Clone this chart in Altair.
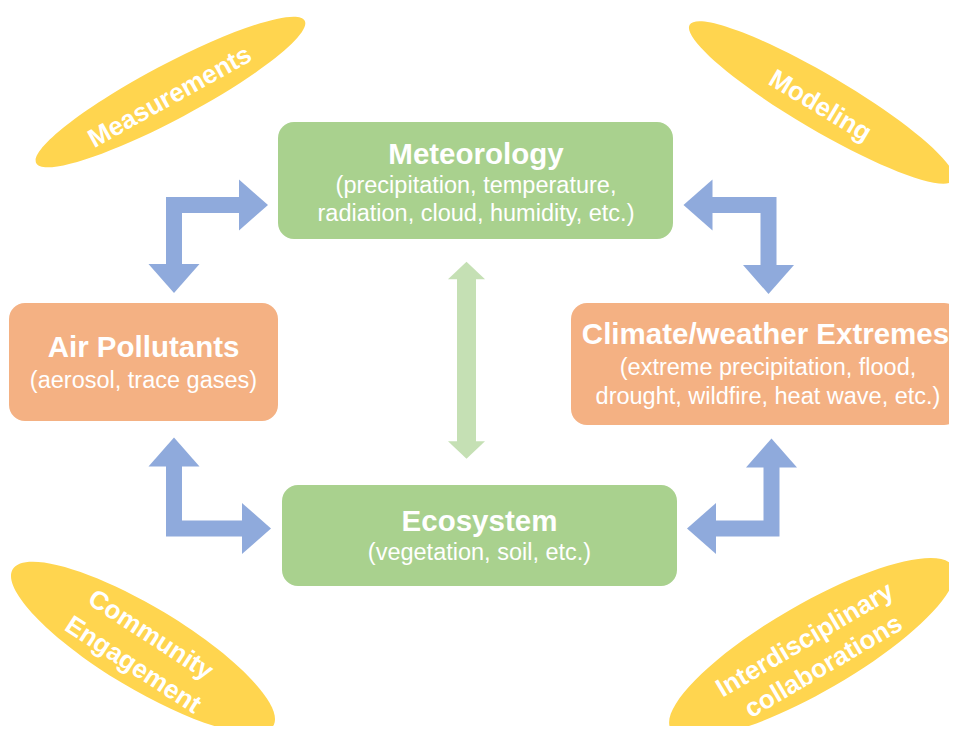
import altair as alt
import pandas as pd

# ---------------- content ----------------
box_titles = ["Meteorology", "Air Pollutants", "Climate/weather Extremes", "Ecosystem"]
box_sub_lines = [
    ["(precipitation, temperature,", "radiation, cloud, humidity, etc.)"],
    ["(aerosol, trace gases)"],
    ["(extreme precipitation, flood,", "drought, wildfire, heat wave, etc.)"],
    ["(vegetation, soil, etc.)"],
]
box_colors = ["#A9D18E", "#F4B183", "#F4B183", "#A9D18E"]
theme_lines = [["Measurements"], ["Modeling"], ["Community", "Engagement"],
               ["Interdisciplinary", "collaborations"]]

# ---------------- layout (page pixels) ----------------
box_x0 = [278, 9, 571, 282]
box_x1 = [673, 278, 960, 677]
box_y0 = [122, 303, 303, 485]
box_y1 = [239, 421, 425, 586]
box_text_x = [476, 143.5, 768, 479.5]
box_title_x = [476, 143.5, 765.5, 479.5]
box_title_y = [155, 348, 335, 522]
box_sub_y = [[186, 214], [381], [368, 397], [553]]

ell_cx = [170.5, 821.5, 143, 812]
ell_cy = [92, 102.5, 647.5, 648]
ell_angle = [332, 30.5, 31, 330]
ell_half = [152, 153, 152, 163]
ell_fat = [False, False, True, True]
ell_text_x = [[170], [820], [150.5, 133], [805, 823.5]]
ell_text_y = [[97], [106], [635, 665], [640, 666.5]]
ell_text_angle = [331, 31, 33, 329.5]

# blue elbow arrows: (arrow id, x, y) polyline points
blue_arrow_id = [1, 1, 1, 2, 2, 2, 3, 3, 3, 4, 4, 4]
blue_arrow_x = [241, 174, 174, 710, 768.5, 768.5, 174, 174, 243, 771.5, 771.5, 714]
blue_arrow_y = [205, 205, 266, 205, 205, 268, 465, 528.5, 528.5, 465, 528.5, 528.5]
blue_head_x = [253.5, 174, 698, 768.5, 174, 256.5, 771.5, 701.5]
blue_head_y = [205, 278.5, 205, 279.5, 452, 528.5, 453, 528.5]
blue_head_angle = [90, 180, 270, 180, 0, 90, 0, 270]

green_arrow_x = [466.5, 466.5]
green_arrow_y = [277, 443]
green_head_x = [466.5, 466.5]
green_head_y = [270.5, 450]
green_head_angle = [0, 180]

# ---------------- styles ----------------
FONT = "Liberation Sans"
BLUE = "#8FAADC"
LIGHT_GREEN = "#C5E0B4"
YELLOW = "#FFD54F"
W, H, M = 957, 734, 8
PW, PH = W - 2 * M, H - 2 * M   # plot fits inside the page without overflow

ELLIPSE_THIN = "M -1 0 A 1 0.18 0 1 1 1 0 A 1 0.18 0 1 1 -1 0 Z"
ELLIPSE_FAT = "M -1 0 A 1 0.27 0 1 1 1 0 A 1 0.27 0 1 1 -1 0 Z"
BLUE_HEAD = "M 0 -0.569 L 1 0.569 L -1 0.569 Z"
GREEN_HEAD = "M 0 -0.473 L 1 0.473 L -1 0.473 Z"

xs = alt.Scale(domain=[M, M + PW], nice=False, zero=False)
ys = alt.Scale(domain=[M, M + PH], nice=False, zero=False, reverse=True)


def X(f="x"):
    return alt.X(f"{f}:Q", scale=xs, axis=None)


def Y(f="y"):
    return alt.Y(f"{f}:Q", scale=ys, axis=None)


# ---------------- tables ----------------
boxes = pd.DataFrame({"x": box_x0, "x2": box_x1, "y": box_y0, "y2": box_y1,
                      "color": box_colors})

titles = pd.DataFrame({"x": box_title_x, "y": box_title_y, "text": box_titles})
sub_rows = []
for i, lines in enumerate(box_sub_lines):
    for line, yy in zip(lines, box_sub_y[i]):
        sub_rows.append({"x": box_text_x[i], "y": yy, "text": line})
subs = pd.DataFrame(sub_rows)

ells = pd.DataFrame({"x": ell_cx, "y": ell_cy, "angle": ell_angle,
                     "size": [(2 * a) ** 2 for a in ell_half],
                     "shape": [ELLIPSE_FAT if f else ELLIPSE_THIN for f in ell_fat]})
ell_rows = []
for i, lines in enumerate(theme_lines):
    for line, xx, yy in zip(lines, ell_text_x[i], ell_text_y[i]):
        ell_rows.append({"x": xx, "y": yy, "angle": ell_text_angle[i], "text": line})
ell_txt = pd.DataFrame(ell_rows)

blue_lines = pd.DataFrame({"id": blue_arrow_id, "x": blue_arrow_x, "y": blue_arrow_y,
                           "order": list(range(len(blue_arrow_x)))})
blue_heads = pd.DataFrame({"x": blue_head_x, "y": blue_head_y, "angle": blue_head_angle})
green_line = pd.DataFrame({"x": green_arrow_x, "y": green_arrow_y, "order": [0, 1]})
green_heads = pd.DataFrame({"x": green_head_x, "y": green_head_y, "angle": green_head_angle})

# ---------------- marks ----------------
ellipse_layer = alt.Chart(ells).mark_point(
    filled=True, color=YELLOW, opacity=1, strokeWidth=0
).encode(x=X(), y=Y(), angle=alt.Angle("angle:Q", scale=None),
         size=alt.Size("size:Q", scale=None),
         shape=alt.Shape("shape:N", scale=None))

ellipse_text = alt.Chart(ell_txt).mark_text(
    font=FONT, fontSize=26, fontWeight="bold", color="white", align="center",
    baseline="middle"
).encode(x=X(), y=Y(), angle=alt.Angle("angle:Q", scale=None), text="text:N")

box_layer = alt.Chart(boxes).mark_rect(cornerRadius=16).encode(
    x=X(), x2="x2:Q", y=Y(), y2="y2:Q", color=alt.Color("color:N", scale=None))

title_layer = alt.Chart(titles).mark_text(
    font=FONT, fontSize=29.5, fontWeight="bold", color="white", align="center",
    baseline="middle"
).encode(x=X(), y=Y(), text="text:N")

sub_layer = alt.Chart(subs).mark_text(
    font=FONT, fontSize=23.5, color="white", align="center", baseline="middle"
).encode(x=X(), y=Y(), text="text:N")

blue_line_layer = alt.Chart(blue_lines).mark_line(
    color=BLUE, strokeWidth=16, strokeJoin="miter", strokeCap="butt"
).encode(x=X(), y=Y(), detail="id:N", order="order:Q")

blue_head_layer = alt.Chart(blue_heads).mark_point(
    shape=BLUE_HEAD, filled=True, color=BLUE, opacity=1, strokeWidth=0, size=51 ** 2
).encode(x=X(), y=Y(), angle=alt.Angle("angle:Q", scale=None))

green_line_layer = alt.Chart(green_line).mark_line(
    color=LIGHT_GREEN, strokeWidth=19, strokeCap="butt"
).encode(x=X(), y=Y(), order="order:Q")

green_head_layer = alt.Chart(green_heads).mark_point(
    shape=GREEN_HEAD, filled=True, color=LIGHT_GREEN, opacity=1, strokeWidth=0,
    size=37 ** 2
).encode(x=X(), y=Y(), angle=alt.Angle("angle:Q", scale=None))

chart = alt.layer(
    ellipse_layer, ellipse_text,
    blue_line_layer, blue_head_layer, green_line_layer, green_head_layer,
    box_layer, title_layer, sub_layer,
).properties(
    width=PW, height=PH, padding=0, autosize="none", background="white"
).configure_view(stroke=None)

chart.save("out.html", embed_options={"renderer": "svg", "actions": False})
